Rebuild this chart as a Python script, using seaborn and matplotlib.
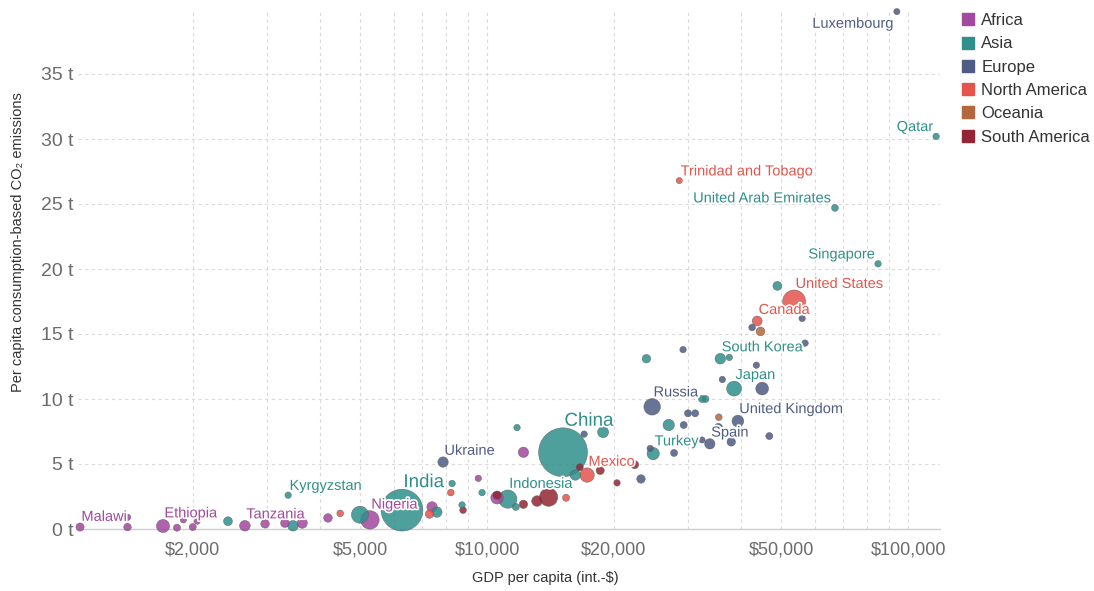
import numpy as np
import pandas as pd
import matplotlib
matplotlib.use("Agg")
import matplotlib.pyplot as plt
import matplotlib.patheffects as pe
from matplotlib.ticker import FixedLocator, FixedFormatter, NullFormatter
from matplotlib.lines import Line2D
import seaborn as sns

# ---------------- data ----------------
country = [
    "Malawi", "", "", "Ethiopia", "", "", "", "", "Tanzania", "", "", "", "", "Nigeria", "", "", "", "",
    "", "", "Kyrgyzstan", "", "India", "", "", "", "", "Indonesia", "", "", "China", "", "", "", "",
    "Turkey", "", "", "South Korea", "", "Japan", "", "United Arab Emirates", "Singapore", "Qatar",
    "Ukraine", "", "", "Russia", "", "", "", "", "", "", "", "Spain", "", "", "", "", "",
    "United Kingdom", "", "", "", "", "Luxembourg",
    "", "", "", "", "Mexico", "Trinidad and Tobago", "Canada", "United States",
    "", "",
    "", "", "", "", "", "", "", "", "",
]
continent = (
    ["Africa"] * 18
    + ["Asia"] * 27
    + ["Europe"] * 23
    + ["North America"] * 8
    + ["Oceania"] * 2
    + ["South America"] * 9
)
gdp_per_capita = [
    # Africa
    1080, 1400, 1400, 1700, 1835, 1900, 2000, 2050, 2660, 2970, 3310, 3640, 4190, 5270, 7400, 9530, 10560, 12200,
    # Asia
    2425, 3460, 3370, 4990, 6280, 7600, 8260, 8720, 9730, 11200, 11700, 11780, 15150, 16200, 18860, 23900, 27000,
    24800, 32400, 33000, 35800, 37600, 38600, 48900, 67000, 84800, 116500,
    # Europe
    7860, 17000, 23200, 24660, 24400, 27800, 29200, 30000, 31200, 29300, 32400, 33800, 35400, 38000, 36200, 43600,
    45000, 39400, 46800, 56900, 42600, 56000, 94000,
    # North America
    4480, 7300, 8200, 15400, 17280, 28600, 43800, 53600,
    # Oceania
    35500, 44600,
    # South America
    8770, 10560, 12200, 13140, 14000, 16600, 18560, 20350, 22400,
]
co2_per_capita = [
    # Africa
    0.15, 0.9, 0.15, 0.23, 0.1, 0.7, 0.15, 0.6, 0.25, 0.4, 0.45, 0.45, 0.85, 0.7, 1.7, 3.9, 2.4, 5.9,
    # Asia
    0.6, 0.25, 2.6, 1.1, 1.45, 1.3, 3.5, 1.85, 2.8, 2.3, 1.7, 7.8, 5.9, 4.15, 7.45, 13.1, 8.0,
    5.8, 10.0, 10.0, 13.1, 13.2, 10.8, 18.7, 24.7, 20.4, 30.2,
    # Europe
    5.15, 7.3, 3.85, 9.4, 6.2, 5.85, 13.8, 8.9, 8.9, 8.0, 6.85, 6.55, 7.8, 6.7, 11.5, 12.6,
    10.8, 8.3, 7.15, 14.3, 15.5, 16.2, 39.8,
    # North America
    1.2, 1.15, 2.8, 2.4, 4.15, 26.8, 16.0, 17.5,
    # Oceania
    8.6, 15.2,
    # South America
    1.45, 2.6, 1.9, 2.15, 2.45, 4.75, 4.5, 3.55, 4.95,
]
population_m = [
    # Africa
    18, 3, 12, 80, 8, 1, 8, 1, 45, 22, 22, 40, 22, 180, 42, 3, 70, 42,
    # Asia
    25, 45, 3, 150, 1010, 42, 3, 3, 3, 175, 8, 3, 1390, 42, 50, 21, 55,
    68, 8, 8, 45, 3, 110, 25, 6, 3, 3,
    # Europe
    42, 3, 21, 140, 3, 8, 3, 8, 8, 8, 1, 42, 21, 21, 3, 3,
    75, 60, 8, 3, 5, 3, 1,
    # North America
    5, 21, 5, 8, 100, 1, 36, 290,
    # Oceania
    5, 24,
    # South America
    5, 20, 20, 45, 175, 8, 18, 3, 18,
]

continents = ["Africa", "Asia", "Europe", "North America", "Oceania", "South America"]
colors = ["#A2489E", "#2E8F8B", "#4E5C84", "#E5544B", "#B2683C", "#922634"]
x_ticks = [2000, 5000, 10000, 20000, 50000, 100000]
x_tick_labels = ["$2,000", "$5,000", "$10,000", "$20,000", "$50,000", "$100,000"]
y_ticks = [0, 5, 10, 15, 20, 25, 30, 35]
y_tick_labels = ["0 t", "5 t", "10 t", "15 t", "20 t", "25 t", "30 t", "35 t"]

df = pd.DataFrame({
    "country": country,
    "continent": continent,
    "gdp": gdp_per_capita,
    "co2": co2_per_capita,
    "population": population_m,
})
df = df.sort_values("population", ascending=False).reset_index(drop=True)

# ---------------- style ----------------
sns.set_theme(style="white")
plt.rcParams["font.family"] = ["Liberation Sans", "DejaVu Sans"]

W, H = 1094, 591
fig = plt.figure(figsize=(W / 100, H / 100), dpi=100)
L, R, B, T = 78, 940, 529, 9
ax = fig.add_axes([L / W, 1 - B / H, (R - L) / W, (B - T) / H])

SMIN, SMAX, PMAX = 19, 1250, 1400
palette = dict(zip(continents, colors))

sns.scatterplot(
    data=df, x="gdp", y="co2", hue="continent", hue_order=continents, palette=palette,
    size="population", sizes=(SMIN, SMAX), size_norm=(0, PMAX),
    alpha=0.85, edgecolor="#5a5a5a", linewidth=0.35, legend=False, ax=ax,
    clip_on=False, zorder=3,
)

ax.set_xscale("log")
ax.set_xlim(1068, 119000)
ax.set_ylim(0, 40)

ax.xaxis.set_major_locator(FixedLocator(x_ticks))
ax.xaxis.set_major_formatter(FixedFormatter(x_tick_labels))
minor = [m * 10 ** e for e in (3, 4) for m in range(2, 10) if m * 10 ** e not in x_ticks]
ax.xaxis.set_minor_locator(FixedLocator(minor))
ax.xaxis.set_minor_formatter(NullFormatter())
ax.set_yticks(y_ticks)
ax.set_yticklabels(y_tick_labels)

grid_kw = dict(color="#dadada", linewidth=0.8, linestyle=(0, (3, 3)))
ax.grid(which="both", axis="x", **grid_kw)
ax.grid(which="major", axis="y", **grid_kw)
ax.set_axisbelow(True)

for s in ["left", "right", "top"]:
    ax.spines[s].set_visible(False)
ax.spines["bottom"].set_color("#d0d0d0")
ax.spines["bottom"].set_linewidth(1.0)
ax.spines["bottom"].set_zorder(1)

ax.tick_params(axis="both", which="both", length=0)
ax.tick_params(axis="x", labelsize=13, labelcolor="#6b6b6b", pad=9)
ax.tick_params(axis="y", labelsize=14, labelcolor="#6b6b6b", pad=3)

ax.set_xlabel("GDP per capita (int.-$)", fontsize=10.5, color="#333333")
ax.set_ylabel("Per capita consumption-based CO\u2082 emissions", fontsize=10.5, color="#333333")
ax.xaxis.set_label_coords((545 - L) / (R - L), -(571 - B) / (B - T))
ax.yaxis.set_label_coords((25 - L) / (R - L), (B - 242) / (B - T))

# ---------------- labels ----------------
right_labels = {"United Arab Emirates", "Singapore", "Qatar"}
below_labels = {"Luxembourg"}
big_labels = {"China", "India"}
halo = [pe.withStroke(linewidth=2.5, foreground="white")]

for _, row in df[df["country"] != ""].iterrows():
    s = SMIN + row["population"] / PMAX * (SMAX - SMIN)
    r_pt = np.sqrt(s) / 2
    name = row["country"]
    col = palette[row["continent"]]
    fs = 13.5 if name in big_labels else 10.5
    if name in below_labels:
        off, ha, va = (-2, -(r_pt + 1.5)), "right", "top"
    elif name in right_labels:
        off, ha, va = (-2, r_pt + 1.5), "right", "baseline"
    else:
        off, ha, va = (1, r_pt + 1.5), "left", "baseline"
    ax.annotate(name, (row["gdp"], row["co2"]), xytext=off, textcoords="offset points",
                ha=ha, va=va, fontsize=fs, color=col, path_effects=halo, zorder=5,
                annotation_clip=False)

# ---------------- legend ----------------
handles = [Line2D([0], [0], marker="s", linestyle="", markersize=9,
                  markerfacecolor=c, markeredgecolor=c) for c in colors]
fig.legend(handles, continents, loc="upper left", bbox_to_anchor=(958 / W, 1 - 13 / H),
           frameon=False, fontsize=12, labelcolor="#333333", handletextpad=0.2,
           labelspacing=0.5, handlelength=1.2, borderaxespad=0, borderpad=0)

fig.savefig("out.png", dpi=100)
